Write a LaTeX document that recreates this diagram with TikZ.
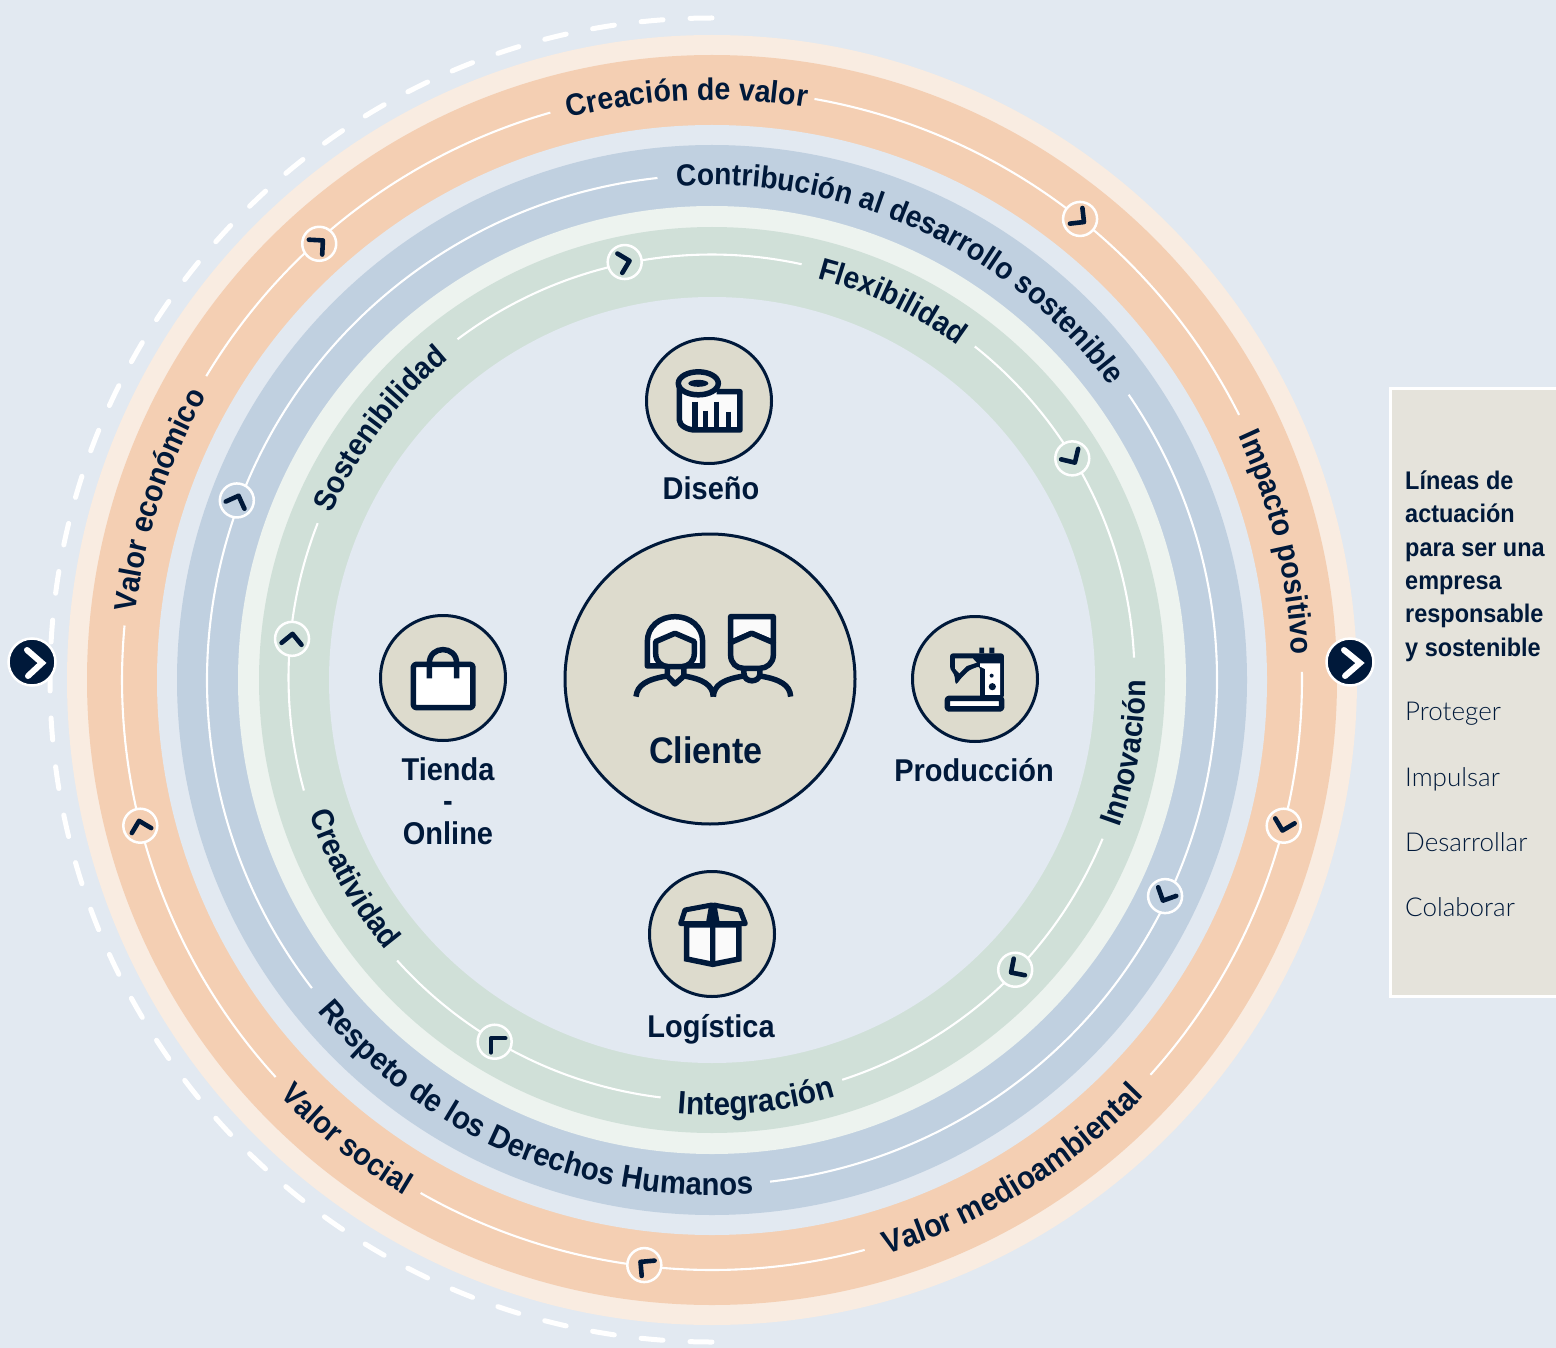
\documentclass[tikz,border=0pt]{standalone}
\usepackage{fontspec}
\usetikzlibrary{decorations.text}
\setmainfont{Liberation Sans}
\newfontfamily\boldf[FakeStretch=0.92]{Liberation Sans Bold}
\newfontfamily\lightf{Lato Light}
\definecolor{bgc}{HTML}{E2E9F1}
\definecolor{navy}{HTML}{00193A}
\definecolor{peachl}{HTML}{F9ECE1}
\definecolor{peach}{HTML}{F4CFB3}
\definecolor{bluer}{HTML}{C0D0E0}
\definecolor{greenl}{HTML}{EDF3EF}
\definecolor{greenr}{HTML}{D0E0D8}
\definecolor{beige}{HTML}{DDDBCD}
\definecolor{panelc}{HTML}{E5E3DB}
\definecolor{iconw}{HTML}{FAFAFA}
\tikzset{
  ringline/.style={draw=white,line width=2.1pt},
  mark peach/.style={circle,draw=white,line width=2.5pt,fill=peach,minimum size=34pt,inner sep=0pt},
  mark blue/.style={circle,draw=white,line width=2.5pt,fill=bluer,minimum size=34pt,inner sep=0pt},
  mark green/.style={circle,draw=white,line width=2.5pt,fill=greenr,minimum size=34pt,inner sep=0pt},
  chev/.style={draw=navy,line width=4.6pt,line cap=round,line join=round},
  bigchev/.style={draw=white,line width=6pt,line cap=round,line join=miter},
  disc/.style={circle,draw=navy,line width=3pt,fill=beige,inner sep=0pt},
  go/.style={circle,draw=white,line width=2.5pt,fill=navy,minimum size=47pt,inner sep=0pt},
  lab/.style={text=navy,font=\boldf\fontsize{31.5}{31.5}\selectfont,anchor=base,inner sep=0pt},
  panelhead/.style={text=navy,font=\boldf\fontsize{25.5}{25.5}\selectfont,anchor=base west,inner sep=0pt},
  panelitem/.style={text=navy,font=\lightf\fontsize{26}{26}\selectfont,anchor=base west,inner sep=0pt},
  ico/.style={draw=navy,line width=5.5pt,line join=round,fill=iconw},
  icoline/.style={draw=navy,line width=5.5pt,line join=round},
}
\newcommand{\ringarc}[3]{\draw[ringline] (#2:#1) arc[start angle=#2,end angle=#3,radius=#1pt];}
% radius, start, end, size, text
\newcommand{\ringtext}[5]{\path[postaction={decorate},decoration={text along path,text align=center,text={|\boldf\fontsize{#4}{#4}\selectfont\color{navy}|#5}}] (#2:#1) arc[start angle=#2,end angle=#3,radius=#1pt];}
% radius, style, angle, chevron heading
\newcommand{\ringmark}[4]{\node[mark #2] (m#1x#3) at (#3:#1) {};
  \begin{scope}[shift={(#3:#1)},rotate=#4]\draw[chev] (-5,10)--(5,0)--(-5,-10);\end{scope}}
\begin{document}
\begin{tikzpicture}[x=1pt,y=-1pt]
\useasboundingbox (0,0) rectangle (1556,1348);
\fill[bgc] (0,0) rectangle (1556,1348);
\begin{scope}[shift={(712,680)},y=1pt]
\fill[peachl] (0,0) circle[radius=645pt];
\fill[peach] (0,0) circle[radius=625pt];
\fill[bgc] (0,0) circle[radius=555pt];
\fill[bluer] (0,0) circle[radius=535pt];
\fill[greenl] (0,0) circle[radius=474pt];
\fill[greenr] (0,0) circle[radius=453pt];
\fill[bgc] (0,0) circle[radius=383pt];
\draw[white,line width=5pt,line cap=round,dash pattern=on 22pt off 27pt] (90:662) arc[start angle=90,end angle=270,radius=662pt];
% orange ring
\ringarc{590}{80}{26.7}
\ringarc{590}{0.8}{-42}
\ringarc{590}{-75}{-119.6}
\ringarc{590}{-137.7}{-185.3}
\ringarc{590}{149}{105.9}
\ringtext{580}{115}{70}{31}{Creación de valor}
\ringtext{580}{39.7}{-12.3}{31}{Impacto positivo}
\ringtext{600}{-85}{-32}{32}{Valor medioambiental}
\ringtext{600}{-145}{-112}{31}{Valor social}
\ringtext{580}{180.5}{143.5}{31}{Valor económico}
\ringmark{590}{peach}{51.4}{-38.6}
\ringmark{590}{peach}{-14.3}{-104.3}
\ringmark{589}{peach}{-96.6}{140}
\ringmark{590}{peach}{-165.7}{104.3}
\ringmark{587}{peach}{132}{42}
% blue ring
\ringarc{505}{34.4}{-83.4}
\ringarc{505}{-142.4}{-263.8}
\ringtext{495}{105.3}{25.3}{30.6}{Contribución al desarrollo sostenible}
\ringtext{515}{-149.7}{-75.7}{31.8}{Respeto de los Derechos Humanos}
\ringmark{502}{blue}{-25.5}{-115.5}
\ringmark{508}{blue}{159.3}{69.3}
% green ring lines sit a little off the common centre
\begin{scope}[shift={(-0.5,2.5)}]
\ringarc{423}{51.5}{2.7}
\ringarc{423}{-22.4}{-72}
\ringarc{423}{-96.9}{-138}
\ringarc{423}{-164.5}{-201.4}
\ringarc{423}{126.9}{77.7}
\end{scope}
\ringtext{415}{90}{39}{31}{Flexibilidad}
\ringtext{433.5}{-35}{15}{31}{Innovación}
\ringtext{435}{-105}{-63}{32.3}{Integración}
\ringtext{424}{-170}{-132}{31.5}{Creatividad}
\ringtext{415}{170.4}{115.4}{31}{Sostenibilidad}
\ringmark{427}{green}{101.8}{14}
\ringmark{423}{green}{31.6}{-58.4}
\ringmark{419.4}{green}{-43.7}{-146}
\ringmark{422}{green}{-121}{135}
\ringmark{422}{green}{174.4}{84.4}
\end{scope}
% discs
\node[disc,minimum size=290pt] (cliente) at (710,679) {};
\node[disc,minimum size=125pt] (diseno) at (709,401) {};
\node[disc,minimum size=125pt] (tienda) at (443,678) {};
\node[disc,minimum size=125pt] (produccion) at (975,679) {};
\node[disc,minimum size=125pt] (logistica) at (712,934) {};
% labels
\node[lab,font=\boldf\fontsize{37}{37}\selectfont] (tcli) at (706,763) {Cliente};
\node[lab] (tdis) at (711,499) {Diseño};
\node[lab] (ttie) at (448,780) {Tienda};
\node[lab] (tdash) at (448,811) {-};
\node[lab] (tonl) at (448,844) {Online};
\node[lab] (tpro) at (974,781) {Producción};
\node[lab] (tlog) at (711,1037) {Logística};
% tape icon
\begin{scope}[shift={(560,320)},x=.3333pt,y=-.3333pt]
\draw[ico] (358,190) -- (358,300) .. controls (358,318) and (385,330) .. (405,330) -- (540,330) -- (540,215) -- (470,215);
\draw[ico,fill=beige] (415,190) ellipse[x radius=20pt,y radius=11.5pt];
\fill[navy] (415,190) ellipse[x radius=10pt,y radius=3.5pt];
\foreach \xx/\yy in {405/245,437/272,470/245,505/275}{\draw[navy,line width=5.5pt] (\xx,\yy)--(\xx,330);}
\end{scope}
% people icon
\begin{scope}[shift={(560,320)},x=.3333pt,y=-.3333pt]
\draw[ico] (262,1038) -- (262,965) .. controls (262,920) and (300,890) .. (345,890) .. controls (390,890) and (428,920) .. (428,965) -- (428,1038) -- cycle;
\draw[icoline,fill=beige] (287,965) -- (345,940) -- (403,965) -- (403,1000) .. controls (403,1025) and (385,1040) .. (365,1040) -- (325,1040) .. controls (305,1040) and (287,1025) .. (287,1000) -- cycle;
\draw[icoline] (322,1040) -- (322,1068) -- (345,1092) -- (372,1068) -- (372,1040);
\draw[icoline] (228,1130) .. controls (232,1095) and (260,1078) .. (322,1068);
\draw[icoline] (372,1068) .. controls (430,1078) and (458,1095) .. (460,1130);
\draw[ico] (512,890) -- (640,890) -- (640,968) -- (575,940) -- (512,968) -- cycle;
\draw[icoline,fill=beige] (512,968) -- (575,940) -- (640,968) -- (640,1005) .. controls (640,1030) and (620,1045) .. (600,1045) -- (550,1045) .. controls (530,1045) and (512,1030) .. (512,1005) -- cycle;
\draw[icoline] (552,1045) -- (552,1060) .. controls (552,1090) and (600,1090) .. (600,1060) -- (600,1045);
\draw[icoline] (460,1130) .. controls (462,1095) and (490,1078) .. (552,1068);
\draw[icoline] (600,1068) .. controls (660,1078) and (690,1095) .. (692,1130);
\end{scope}
% bag icon
\begin{scope}[shift={(370,600)},x=.3333pt,y=-.3333pt]
\draw[ico,fill=white,rounded corners=3pt] (130,193) -- (309,193) -- (309,323) -- (130,323) -- cycle;
\draw[icoline] (178,235) -- (178,190) .. controls (178,135) and (260,135) .. (260,190) -- (260,235);
\end{scope}
% sewing icon
\begin{scope}[shift={(900,610)},x=.3333pt,y=-.3333pt]
\fill[navy,rounded corners=3pt] (150,130) -- (312,130) -- (312,265) -- (240,265) -- (240,168) -- (208,180) -- (183,205) -- (167,226) -- (163,192) -- (150,178) -- cycle;
\fill[navy] (238,113) rectangle (252,130) (268,113) rectangle (283,130);
\fill[beige] (165,145) -- (218,145) -- (230,158) -- (200,168) -- (178,190) -- (165,176) -- cycle;
\fill[white] (240,160) -- (300,160) -- (300,255) -- (255,255) -- (255,177) -- (240,170) -- cycle;
\fill[navy] (275,197) circle[radius=2pt] (277,230) circle[radius=3.6pt];
\draw[ico,fill=white,rounded corners=2pt] (142,265) rectangle (305,297);
\end{scope}
% box icon
\begin{scope}[shift={(640,865)},x=.3333pt,y=-.3333pt]
\draw[ico,line join=miter] (140,180) -- (140,282) -- (218,298) -- (297,282) -- (297,180) -- cycle;
\draw[icoline,fill=beige,line width=5pt] (215,120) -- (135,135) -- (122,176) -- (205,176) -- cycle;
\draw[icoline,fill=beige,line width=5pt] (222,120) -- (300,135) -- (316,176) -- (232,176) -- cycle;
\fill[navy] (218,112) -- (232,178) -- (226,180) -- (226,298) -- (210,298) -- (210,180) -- (205,178) -- cycle;
\end{scope}
% arrows
\node[go] (gol) at (32,662) {};
\draw[bigchev] (27,650) -- (42,663) -- (28,676);
\node[go] (gor) at (1350,662) {};
\draw[bigchev] (1344,650) -- (1360,663) -- (1345,676);
% panel
\draw[white,line width=3pt,fill=panelc] (1390.5,388.5) rectangle (1560,996.5);
\node[panelhead] (h1) at (1405,489) {Líneas de};
\node[panelhead] (h2) at (1405,522) {actuación};
\node[panelhead] (h3) at (1405,556) {para ser una};
\node[panelhead] (h4) at (1405,589) {empresa};
\node[panelhead] (h5) at (1405,622) {responsable};
\node[panelhead] (h6) at (1405,656) {y sostenible};
\node[panelitem] (p1) at (1405,720) {Proteger};
\node[panelitem] (p2) at (1405,786) {Impulsar};
\node[panelitem] (p3) at (1405,851) {Desarrollar};
\node[panelitem] (p4) at (1405,916) {Colaborar};
\end{tikzpicture}
\end{document}
